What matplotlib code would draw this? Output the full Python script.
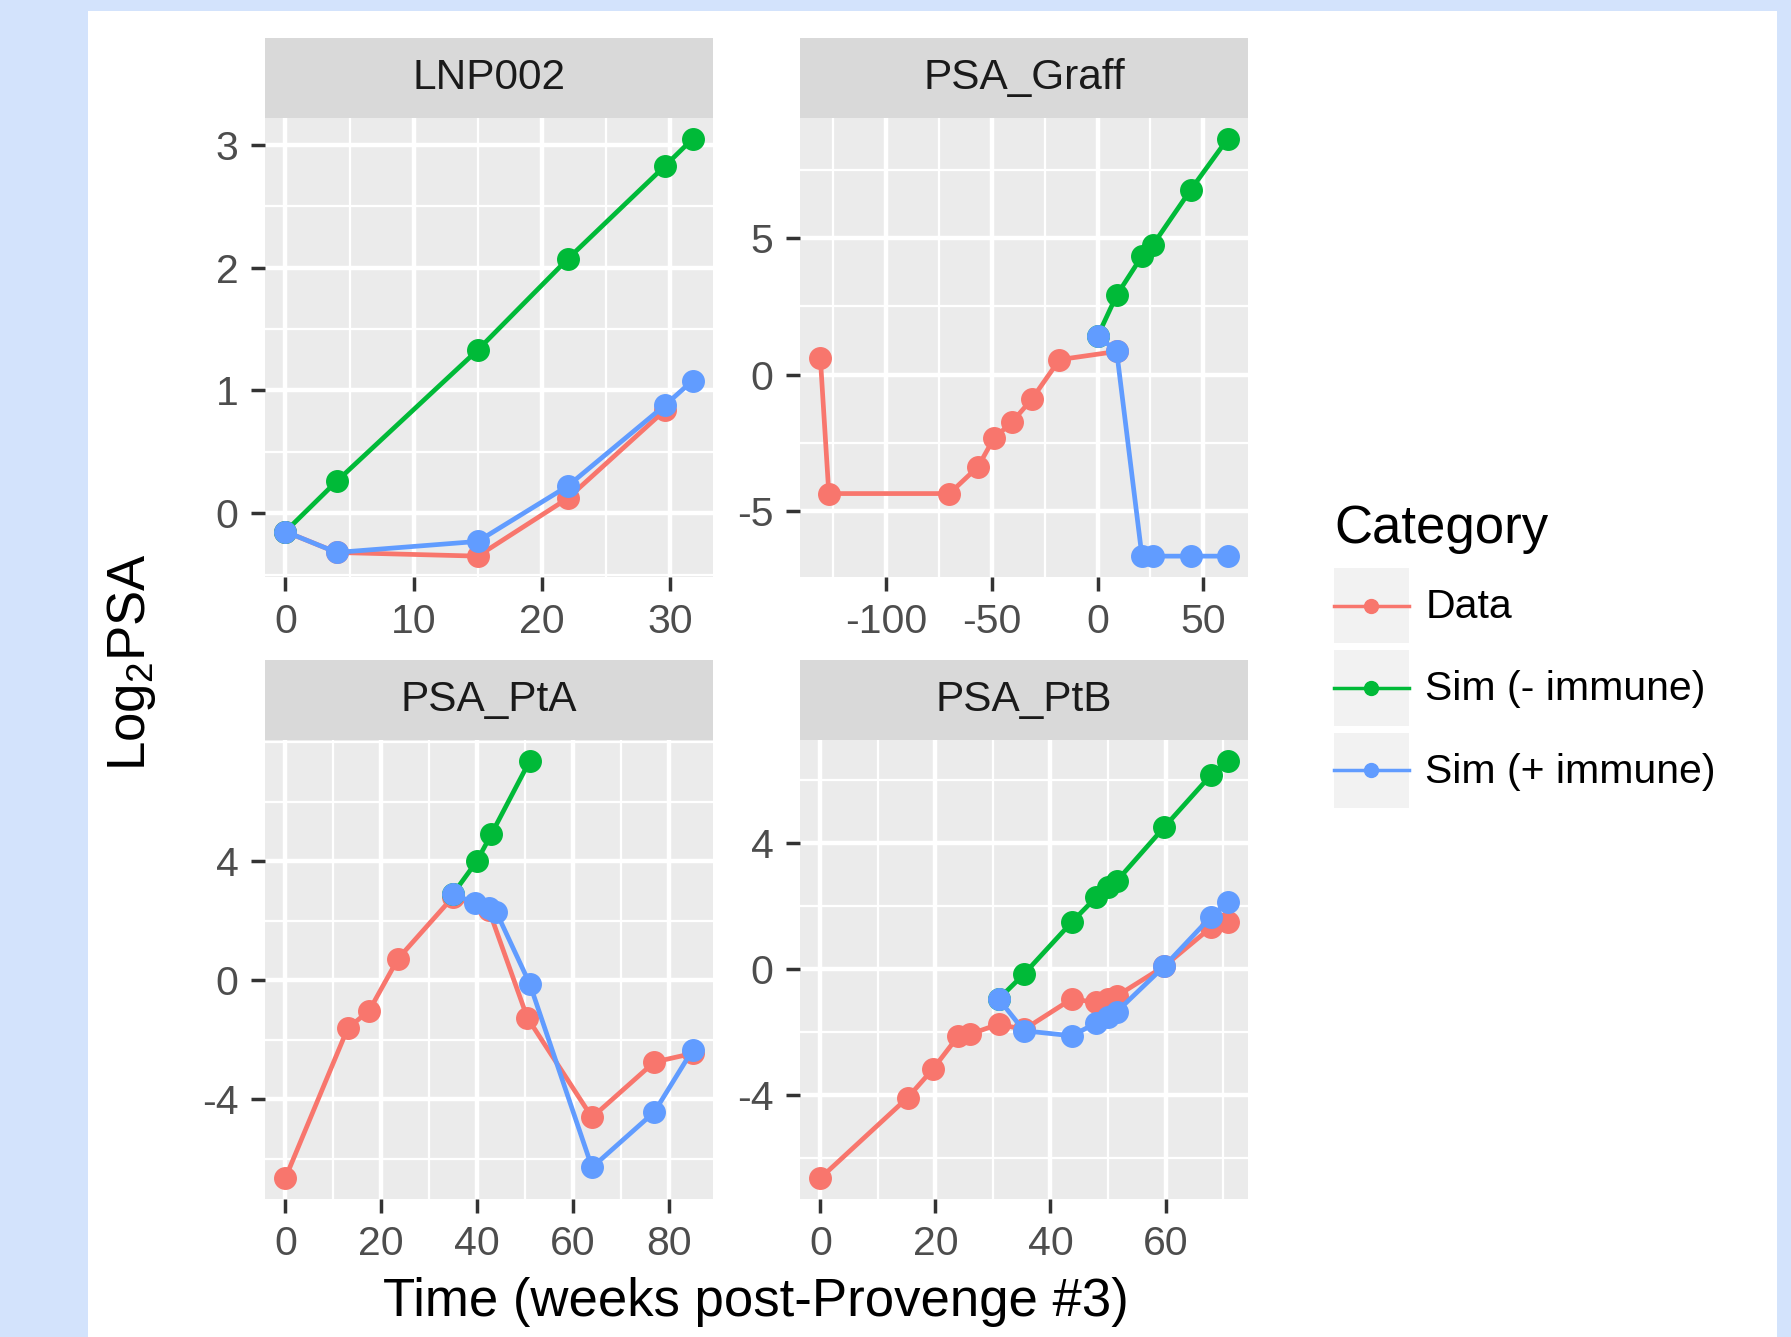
import matplotlib
matplotlib.use("Agg")
import matplotlib.pyplot as plt
from matplotlib.lines import Line2D
from matplotlib.patches import Rectangle
from matplotlib.legend_handler import HandlerLine2D
from matplotlib.ticker import AutoMinorLocator

plt.rcParams['font.family'] = ['Liberation Sans', 'DejaVu Sans']
plt.rcParams['mathtext.fontset'] = 'custom'
plt.rcParams['mathtext.rm'] = 'Liberation Sans'
plt.rcParams['axes.unicode_minus'] = False

# ---- data ----
categories = ['Data', 'Sim (- immune)', 'Sim (+ immune)']
colors = ['#F8766D', '#00BA38', '#619CFF']
panel_names = ['LNP002', 'PSA_Graff', 'PSA_PtA', 'PSA_PtB']

lnp_data_t = [0, 4, 15, 22, 29.6]
lnp_data_y = [-0.15, -0.32, -0.35, 0.12, 0.84]
lnp_sim_t = [0, 4, 15, 22, 29.6, 31.75]
lnp_simneg_y = [-0.15, 0.26, 1.33, 2.07, 2.83, 3.05]
lnp_simpos_y = [-0.15, -0.32, -0.23, 0.22, 0.88, 1.08]

graff_data_t = [-131, -127, -70, -56.5, -49, -40.5, -31, -18, 9]
graff_data_y = [0.61, -4.35, -4.35, -3.37, -2.33, -1.74, -0.89, 0.55, 0.85]
graff_sim_t = [0, 9, 21, 26, 44, 61.5]
graff_simneg_y = [1.4, 2.9, 4.34, 4.73, 6.76, 8.63]
graff_simpos_y = [1.4, 0.88, -6.64, -6.64, -6.64, -6.64]

pta_data_t = [0, 13, 17.5, 23.5, 35, 42.5, 50.5, 64, 77, 85]
pta_data_y = [-6.65, -1.62, -1.02, 0.72, 2.8, 2.35, -1.26, -4.61, -2.75, -2.46]
pta_simneg_t = [35, 40, 43, 51]
pta_simneg_y = [2.9, 4.01, 4.91, 7.37]
pta_simpos_t = [35, 39.5, 42.5, 44, 51, 64, 77, 85]
pta_simpos_y = [2.9, 2.59, 2.42, 2.3, -0.12, -6.29, -4.43, -2.34]

ptb_data_t = [0, 15.2, 19.6, 24, 26, 31, 35.4, 43.7, 48, 50, 51.5, 59.8, 67.9, 70.8]
ptb_data_y = [-6.63, -4.07, -3.16, -2.11, -2.06, -1.74, -1.91, -0.94, -1.05, -0.95, -0.85, 0.1, 1.33, 1.5]
ptb_sim_t = [31, 35.4, 43.7, 48, 50, 51.5, 59.8, 67.9, 70.8]
ptb_simneg_y = [-0.94, -0.15, 1.5, 2.3, 2.6, 2.8, 4.52, 6.17, 6.62]
ptb_simpos_y = [-0.94, -1.95, -2.11, -1.7, -1.5, -1.35, 0.1, 1.67, 2.13]

series = {
    'LNP002': [(lnp_data_t, lnp_data_y), (lnp_sim_t, lnp_simneg_y), (lnp_sim_t, lnp_simpos_y)],
    'PSA_Graff': [(graff_data_t, graff_data_y), (graff_sim_t, graff_simneg_y), (graff_sim_t, graff_simpos_y)],
    'PSA_PtA': [(pta_data_t, pta_data_y), (pta_simneg_t, pta_simneg_y), (pta_simpos_t, pta_simpos_y)],
    'PSA_PtB': [(ptb_data_t, ptb_data_y), (ptb_sim_t, ptb_simneg_y), (ptb_sim_t, ptb_simpos_y)],
}

xticks = {'LNP002': [0, 10, 20, 30], 'PSA_Graff': [-100, -50, 0, 50],
          'PSA_PtA': [0, 20, 40, 60, 80], 'PSA_PtB': [0, 20, 40, 60]}
yticks = {'LNP002': [0, 1, 2, 3], 'PSA_Graff': [-5, 0, 5],
          'PSA_PtA': [-4, 0, 4], 'PSA_PtB': [-4, 0, 4]}

# ---- layout (figure fractions) ----
W, H = 1791, 1337
fig = plt.figure(figsize=(W / 100, H / 100), dpi=100, facecolor='#d3e3fc')
fig.patches.append(Rectangle((88 / W, 0), (1777 - 88) / W, 1 - 11 / H,
                             transform=fig.transFigure, facecolor='white',
                             edgecolor='none', zorder=-10))

col_x = [265 / W, 800 / W]
col_w = 448 / W
row_top = [118, 740]   # panel top (px from top)
panel_h = 459
strip_h = 80

tick_fs = 29.5
title_fs = 38
for i, name in enumerate(panel_names):
    r, c = divmod(i, 2)
    y0 = 1 - (row_top[r] + panel_h) / H
    ax = fig.add_axes([col_x[c], y0, col_w, panel_h / H])
    sax = fig.add_axes([col_x[c], 1 - row_top[r] / H, col_w, strip_h / H])
    sax.set_facecolor('#d9d9d9')
    sax.set_xticks([])
    sax.set_yticks([])
    for s in sax.spines.values():
        s.set_visible(False)
    sax.text(0.5, 0.5, name, ha='center', va='center', fontsize=30.5,
             color='#1a1a1a', transform=sax.transAxes)

    ax.set_facecolor('#ebebeb')
    for s in ax.spines.values():
        s.set_visible(False)
    for (t, y), col in zip(series[name], colors):
        ax.plot(t, y, color=col, lw=3.4, marker='o', ms=15.5, zorder=3)
    ax.margins(0.05)
    ax.set_xticks(xticks[name])
    ax.set_yticks(yticks[name])
    ax.xaxis.set_minor_locator(AutoMinorLocator(2))
    ax.yaxis.set_minor_locator(AutoMinorLocator(2))
    ax.grid(which='major', color='white', lw=3.2)
    ax.grid(which='minor', color='white', lw=1.6)
    ax.set_axisbelow(True)
    ax.tick_params(which='major', length=10, width=2.5, color='#333333',
                   labelsize=tick_fs, labelcolor='#4d4d4d')
    ax.tick_params(axis='x', pad=9)
    ax.tick_params(axis='y', pad=9)
    ax.tick_params(which='minor', length=0)

fig.text(132 / W, 1 - 662 / H, r'Log$_\mathrm{2}$PSA', rotation=90,
         ha='center', va='center', fontsize=title_fs)
fig.text(756 / W, 1 - 1302 / H, 'Time (weeks post-Provenge #3)',
         ha='center', va='center', fontsize=title_fs)


class KeyHandler(HandlerLine2D):
    # grey key background like ggplot, line/point centred in the key
    def create_artists(self, legend, orig_handle, xdescent, ydescent,
                       width, height, fontsize, trans):
        bg = Rectangle((-xdescent, -ydescent), width, height,
                       facecolor='#f2f2f2', edgecolor='none', transform=trans)
        arts = super().create_artists(legend, orig_handle, xdescent, 2 * ydescent,
                                      width, height, fontsize, trans)
        return [bg] + arts


# legend title drawn separately so its gap to the keys can be matched
fig.text(1334 / W, 1 - 529 / H, 'Category', ha='left', va='center',
         fontsize=title_fs)
handles = [Line2D([], [], color=col, lw=2.5, marker='o', ms=10) for col in colors]
leg = fig.legend(handles, categories, loc='upper left',
                 bbox_to_anchor=(1334 / W, 1 - 568 / H), frameon=False,
                 fontsize=tick_fs, numpoints=1,
                 handlelength=1.83, handleheight=2.45, labelspacing=0.17,
                 handletextpad=0.4, borderpad=0, borderaxespad=0,
                 handler_map={Line2D: KeyHandler()})

fig.savefig('out.png', dpi=100, facecolor=fig.get_facecolor())
